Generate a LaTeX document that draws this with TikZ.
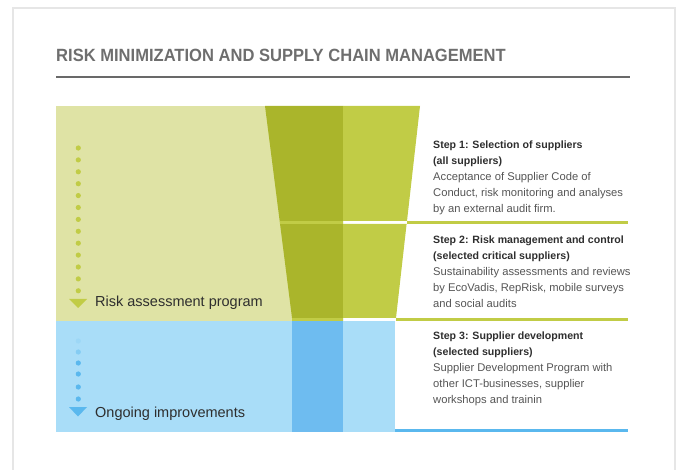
\documentclass[tikz,border=0pt]{standalone}
\usepackage{fontspec}
\usepackage{xcolor}
\setmainfont{Liberation Sans}
\newfontfamily\titlefont[FakeStretch=0.935]{Liberation Sans}
\definecolor{lightgreen}{HTML}{DFE3A5}
\definecolor{darkgreen}{HTML}{AAB52B}
\definecolor{midgreen}{HTML}{C1CC46}
\definecolor{lightblue}{HTML}{A9DDF8}
\definecolor{blueband}{HTML}{6EBCF0}
\definecolor{blueline}{HTML}{5AB8EE}
\definecolor{framegray}{HTML}{E6E6E6}
\definecolor{titlegray}{HTML}{6E6E6E}
\definecolor{headgray}{HTML}{2E2E2E}
\definecolor{descgray}{HTML}{555555}
\newcommand{\stephead}[1]{\textcolor{headgray}{\fontsize{10.6}{15.8}\selectfont\bfseries #1}}

\begin{document}
\begin{tikzpicture}[x=1pt, y=-1pt,
  steptext/.style={anchor=north west, inner sep=0, align=left, text=descgray,
    font=\fontsize{11.2}{15.8}\selectfont},
  phase/.style={anchor=base west, inner sep=0, text=headgray,
    font=\fontsize{14.5}{16}\selectfont}]
  \useasboundingbox (0,0) rectangle (680,470);
  \draw[framegray, line width=1.5] (13,472) |- (675,8) -- (675,472);

  \node (T) [anchor=base west, inner sep=0, text=titlegray,
    font=\titlefont\bfseries\fontsize{17.7}{20}\selectfont] at (56,61.7)
    {RISK MINIMIZATION AND SUPPLY CHAIN MANAGEMENT};
  \fill[titlegray!95!black] (56,75.7) rectangle (630,78.3);

  \fill[lightgreen] (56,106) rectangle (343,321);
  \fill[darkgreen] (265,106) -- (343,106) -- (343,321) -- (292.4,321) -- cycle;
  \fill[midgreen] (279.6,221) rectangle (343,224);
  \fill[midgreen] (292,318) rectangle (343,321);
  \fill[midgreen] (343,106) -- (420,106) -- (407,221) -- (343,221) -- cycle;
  \fill[midgreen] (343,224) -- (406.6,224) -- (396,318) -- (343,318) -- cycle;
  \fill[midgreen] (407,221) rectangle (628,224);
  \fill[midgreen] (396,318) rectangle (628,321);

  \fill[lightblue] (56,321) rectangle (395,432);
  \fill[blueband] (292,321) rectangle (343,432);
  \fill[blueline] (395,429) rectangle (628,432);

  \foreach \k in {0,...,12}
    \fill[midgreen] (78.3,148+11.9*\k) circle (2.6);
  \fill[midgreen] (69,299) -- (87,299) -- (78,308) -- cycle;
  \foreach \y/\o in {341/0.15, 352/0.45, 363/1, 374/1, 387/1, 399/1}
    \fill[blueline, opacity=\o] (78.3,\y) circle (2.6);
  \fill[blueline] (69,407) -- (87,407) -- (78,416.5) -- cycle;

  \node (R) [phase] at (95,307) {Risk assessment program};
  \node (O) [phase] at (95,417) {Ongoing improvements};

  \node (S1) [steptext] at (433,141) {%
    \stephead{Step 1: Selection of suppliers}\\
    \stephead{(all suppliers)}\\
    Acceptance of Supplier Code of\\
    Conduct, risk monitoring and analyses\\
    by an external audit firm.};
  \node (S2) [steptext] at (433,236) {%
    \stephead{Step 2: Risk management and control}\\
    \stephead{(selected critical suppliers)}\\
    Sustainability assessments and reviews\\
    by EcoVadis, RepRisk, mobile surveys\\
    and social audits};
  \node (S3) [steptext] at (433,332) {%
    \stephead{Step 3: Supplier development}\\
    \stephead{(selected suppliers)}\\
    Supplier Development Program with\\
    other ICT-businesses, supplier\\
    workshops and trainin};
\end{tikzpicture}
\end{document}
